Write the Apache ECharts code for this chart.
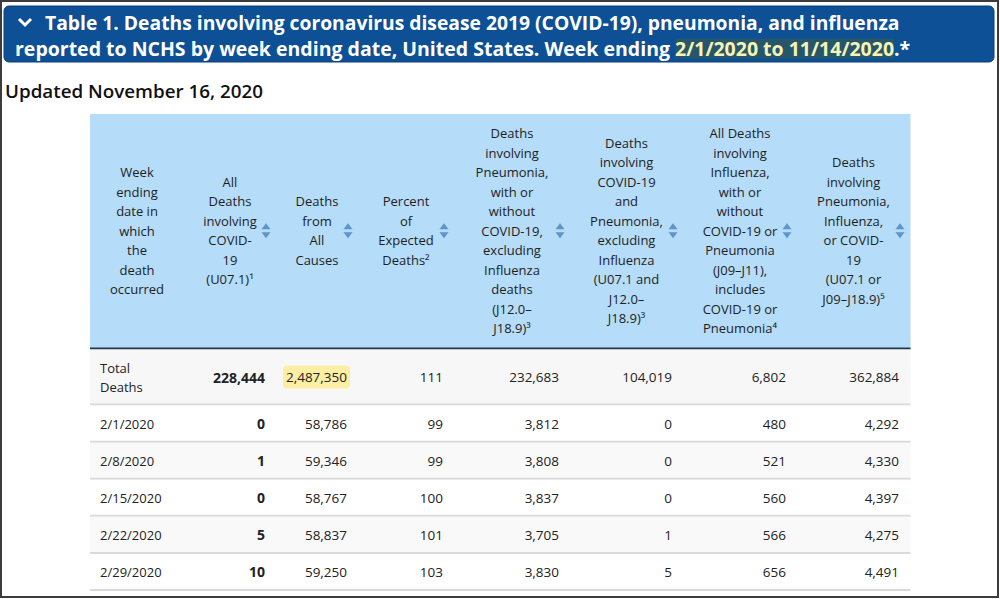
<!DOCTYPE html>
<html><head><meta charset="utf-8">
<script src="https://cdn.jsdelivr.net/npm/echarts@6/dist/echarts.min.js"></script>
<style>html,body{margin:0;padding:0;background:#fff}#c{width:1000px;height:599px}</style>
</head><body><div id="c"></div>
<script>
// ---------- text content ----------
const titleLine1 = 'Table 1. Deaths involving coronavirus disease 2019 (COVID-19), pneumonia, and influenza';
const titleLine2 = 'reported to NCHS by week ending date, United States. Week ending ';
const titleRange = '2/1/2020 to 11/14/2020';
const titleEnd = '.*';
const updatedText = 'Updated November 16, 2020';

const columnHeaders = [
  'Week\nending\ndate in\nwhich\nthe\ndeath\noccurred',
  'All\nDeaths\ninvolving\nCOVID-\n19\n(U07.1)¹',
  'Deaths\nfrom\nAll\nCauses',
  'Percent\nof\nExpected\nDeaths²',
  'Deaths\ninvolving\nPneumonia,\nwith or\nwithout\nCOVID-19,\nexcluding\nInfluenza\ndeaths\n(J12.0–\nJ18.9)³',
  'Deaths\ninvolving\nCOVID-19\nand\nPneumonia,\nexcluding\nInfluenza\n(U07.1 and\nJ12.0–\nJ18.9)³',
  'All Deaths\ninvolving\nInfluenza,\nwith or\nwithout\nCOVID-19 or\nPneumonia\n(J09–J11),\nincludes\nCOVID-19 or\nPneumonia⁴',
  'Deaths\ninvolving\nPneumonia,\nInfluenza,\nor COVID-\n19\n(U07.1 or\nJ09–J18.9)⁵'
];

// ---------- data ----------
const weekEnding = ['Total\nDeaths', '2/1/2020', '2/8/2020', '2/15/2020', '2/22/2020', '2/29/2020'];
const covid19Deaths = [228444, 0, 1, 0, 5, 10];
const allCauseDeaths = [2487350, 58786, 59346, 58767, 58837, 59250];
const percentExpected = [111, 99, 99, 100, 101, 103];
const pneumoniaDeaths = [232683, 3812, 3808, 3837, 3705, 3830];
const covidPneumoniaDeaths = [104019, 0, 0, 0, 1, 5];
const influenzaDeaths = [6802, 480, 521, 560, 566, 656];
const pic19Deaths = [362884, 4292, 4330, 4397, 4275, 4491];

// ---------- layout (relative column / row sizes) ----------
const COL_W = [94, 92, 82, 96, 116, 113, 114, 113];
const ROW_H = [235, 56, 37, 37, 37, 37, 37];

const columns = [weekEnding, covid19Deaths, allCauseDeaths, percentExpected,
  pneumoniaDeaths, covidPneumoniaDeaths, influenzaDeaths, pic19Deaths];

const colStart = COL_W.reduce((a, w, i) => { a.push(i ? a[i - 1] + COL_W[i - 1] : 0); return a; }, []);
const rowStart = ROW_H.reduce((a, h, i) => { a.push(i ? a[i - 1] + ROW_H[i - 1] : 0); return a; }, []);
const totalW = colStart[colStart.length - 1] + COL_W[COL_W.length - 1];
const totalH = rowStart[rowStart.length - 1] + ROW_H[ROW_H.length - 1];

const cells = [];
for (let r = 0; r < ROW_H.length; r++) for (let c = 0; c < COL_W.length; c++) cells.push([c, r]);

const FONT = '"Open Sans", "Noto Sans", sans-serif';
const rowBg = ['#f7f7f7', '#ffffff', '#f9f9f9', '#ffffff', '#f9f9f9', '#ffffff'];

function fmt(v) { return typeof v === 'number' ? v.toLocaleString('en-US') : v; }

function renderItem(params, api) {
  const c = api.value(0), r = api.value(1);
  const p0 = api.coord([colStart[c], rowStart[r]]);
  const p1 = api.coord([colStart[c] + COL_W[c], rowStart[r] + ROW_H[r]]);
  const x0 = p0[0], y0 = p0[1], w = p1[0] - p0[0], h = p1[1] - p0[1];
  const children = [];
  if (r === 0) {
    children.push({ type: 'rect', shape: { x: x0, y: y0, width: w + 0.5, height: h }, style: { fill: '#b5dcf8' } });
    children.push({ type: 'text', style: {
      text: columnHeaders[c], x: x0 + w / 2, y: y0 + h / 2 - 1, align: 'center', verticalAlign: 'middle',
      lineHeight: 19.5, fontSize: 13, fontFamily: FONT, fill: '#1e1e1e' } });
    if (c > 0) {
      const ix = x0 + w - 10, iy = y0 + h / 2 - 1;
      children.push({ type: 'polygon', shape: { points: [[ix - 4.5, iy - 1.5], [ix + 4.5, iy - 1.5], [ix, iy - 7.5]] }, style: { fill: '#5f94c9' } });
      children.push({ type: 'polygon', shape: { points: [[ix - 4.5, iy + 1.5], [ix + 4.5, iy + 1.5], [ix, iy + 7.5]] }, style: { fill: '#5f94c9' } });
    }
    children.push({ type: 'rect', shape: { x: x0, y: y0 + h - 2, width: w + 0.5, height: 2 }, style: { fill: '#23384f' } });
  } else {
    const d = r - 1;
    children.push({ type: 'rect', shape: { x: x0, y: y0, width: w + 0.5, height: h }, style: { fill: rowBg[d] } });
    children.push({ type: 'rect', shape: { x: x0, y: y0 + h - 2, width: w + 0.5, height: 2 }, style: { fill: '#dadada' } });
    const val = columns[c][d];
    const st = {
      text: fmt(val), y: y0 + h / 2 - 0.5, verticalAlign: 'middle', fontSize: c === 1 ? 14 : 13.5, lineHeight: 19,
      fontFamily: FONT, fill: '#222', fontWeight: c === 1 ? 'bold' : 'normal'
    };
    if (c === 0) { st.x = x0 + 10; st.align = 'left'; st.fontSize = 13; }
    else { st.x = x0 + w - 11; st.align = 'right'; }
    if (d === 0 && c === 2) {
      st.backgroundColor = '#fcefa4'; st.padding = [2, 3, 2, 3]; st.borderRadius = 4;
      st.x = x0 + w - 8;
    }
    children.push({ type: 'text', style: st });
  }
  return { type: 'group', children };
}

const chart = echarts.init(document.getElementById('c'), null, { renderer: 'svg' });
chart.setOption({
  animation: false,
  backgroundColor: '#ffffff',
  grid: { left: 90, right: 90, top: 114, bottom: 8 },
  xAxis: { type: 'value', min: 0, max: totalW, show: false },
  yAxis: { type: 'value', min: 0, max: totalH, inverse: true, show: false },
  series: [{ type: 'custom', renderItem, data: cells, clip: false }],
  graphic: [
    { type: 'rect', shape: { x: 4, y: 6, width: 990, height: 56, r: 5 }, style: { fill: '#0d5096', stroke: '#0a3f7a', lineWidth: 1 } },
    { type: 'polyline', shape: { points: [[19, 19], [25, 25], [31, 19]] }, style: { stroke: '#ffffff', lineWidth: 3, fill: null } },
    { type: 'text', x: 45, y: 22, style: { text: titleLine1, fontSize: 19.3, lineHeight: 22, fontWeight: 'bold', fontFamily: FONT, fill: '#ffffff', verticalAlign: 'middle' } },
    { type: 'text', x: 15, y: 48.5, style: {
      text: '{a|' + titleLine2 + '}{h|' + titleRange + '}{a|' + titleEnd + '}', verticalAlign: 'middle', lineHeight: 22,
      rich: {
        a: { fontSize: 19.5, lineHeight: 22, fontWeight: 'bold', fontFamily: FONT, fill: '#ffffff', color: '#ffffff' },
        h: { fontSize: 19.5, lineHeight: 22, fontWeight: 'bold', fontFamily: FONT, fill: '#f8f3b4', color: '#f8f3b4', backgroundColor: '#25566a' }
      } } },
    { type: 'text', x: 5, y: 91, style: { text: updatedText, fontSize: 18.8, fontWeight: 600, fontFamily: FONT, fill: '#111111', verticalAlign: 'middle' } },
    { type: 'rect', shape: { x: 1, y: 1, width: 997, height: 596 }, style: { fill: null, stroke: '#3c3c3c', lineWidth: 2 }, z: 100 }
  ]
});
</script></body></html>
